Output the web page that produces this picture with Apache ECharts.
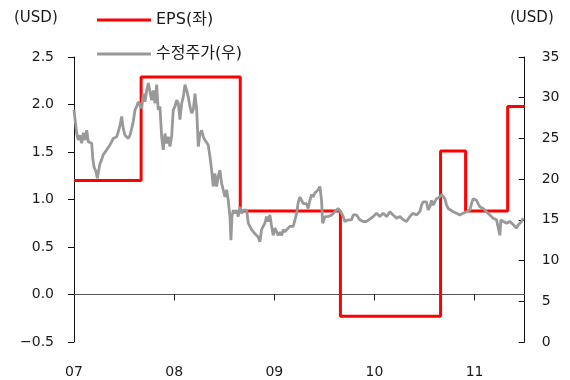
<!DOCTYPE html>
<html>
<head>
<meta charset="utf-8">
<script src="https://cdn.jsdelivr.net/npm/echarts@6/dist/echarts.min.js"></script>
<style>
html,body{margin:0;padding:0;background:#fff;}
#chart{width:570px;height:380px;}
</style>
</head>
<body>
<div id="chart"></div>
<script>
// ---- data ----
var seriesNames = ['EPS(좌)', '수정주가(우)'];
var xTickLabels = ['07', '08', '09', '10', '11'];
var leftTicks = [-0.5, 0.0, 0.5, 1.0, 1.5, 2.0, 2.5];
var rightTicks = [0, 5, 10, 15, 20, 25, 30, 35];

// EPS (left axis, USD) - step changes, time in decimal years
var epsYears = [2007.00, 2007.67, 2008.66, 2009.66, 2010.66, 2010.91, 2011.33, 2011.50];
var epsValues = [1.20, 2.29, 0.88, -0.23, 1.51, 0.88, 1.98, 1.98];

// Adjusted share price (right axis, USD), time in decimal years
var priceYears = [
2007.000,2007.027,2007.043,2007.060,2007.077,2007.093,2007.110,2007.127,2007.143,2007.160,
2007.177,2007.187,2007.200,2007.220,2007.233,2007.247,2007.259,2007.276,2007.292,2007.309,
2007.326,2007.342,2007.359,2007.376,2007.392,2007.409,2007.426,2007.442,2007.459,2007.476,
2007.492,2007.509,2007.526,2007.542,2007.559,2007.576,2007.592,2007.609,2007.626,2007.642,
2007.659,2007.676,2007.692,2007.709,2007.726,2007.742,2007.758,2007.775,2007.791,2007.808,
2007.825,2007.841,2007.858,2007.875,2007.891,2007.908,2007.925,2007.941,2007.958,2007.975,
2007.991,2008.008,2008.025,2008.041,2008.058,2008.075,2008.091,2008.108,2008.125,2008.141,
2008.158,2008.175,2008.191,2008.208,2008.225,2008.241,2008.258,2008.275,2008.291,2008.307,
2008.324,2008.340,2008.357,2008.374,2008.390,2008.407,2008.424,2008.440,2008.457,2008.474,
2008.490,2008.507,2008.524,2008.540,2008.557,2008.567,2008.577,2008.590,2008.607,2008.624,
2008.640,2008.657,2008.674,2008.690,2008.707,2008.724,2008.740,2008.756,2008.773,2008.789,
2008.806,2008.823,2008.839,2008.856,2008.873,2008.889,2008.906,2008.923,2008.939,2008.956,
2008.973,2008.989,2009.006,2009.023,2009.039,2009.056,2009.073,2009.089,2009.106,2009.123,
2009.139,2009.156,2009.173,2009.189,2009.206,2009.223,2009.239,2009.256,2009.273,2009.289,
2009.305,2009.322,2009.338,2009.355,2009.372,2009.388,2009.405,2009.422,2009.438,2009.455,
2009.472,2009.482,2009.495,2009.505,2009.522,2009.538,2009.555,2009.572,2009.588,2009.605,
2009.622,2009.638,2009.655,2009.672,2009.688,2009.705,2009.722,2009.738,2009.755,2009.771,
2009.788,2009.804,2009.821,2009.838,2009.854,2009.871,2009.887,2009.904,2009.921,2009.937,
2009.954,2009.987,2010.021,2010.054,2010.087,2010.121,2010.154,2010.187,2010.221,2010.254,
2010.287,2010.321,2010.353,2010.386,2010.420,2010.453,2010.470,2010.486,2010.503,2010.520,
2010.536,2010.553,2010.570,2010.586,2010.603,2010.620,2010.636,2010.653,2010.670,2010.686,
2010.703,2010.720,2010.736,2010.752,2010.786,2010.819,2010.852,2010.885,2010.918,2010.952,
2010.969,2010.985,2011.002,2011.019,2011.035,2011.052,2011.069,2011.085,2011.102,2011.119,
2011.135,2011.152,2011.169,2011.185,2011.202,2011.219,2011.235,2011.252,2011.262,2011.285,
2011.319,2011.353,2011.386,2011.419,2011.436,2011.452,2011.469,2011.485
];
var priceValues = [
28.5,25.6,24.8,25.4,24.4,25.7,24.8,26.0,24.6,24.8,
24.4,22.6,21.5,20.9,20.1,21.1,21.9,22.4,23.0,23.2,
23.6,23.4,24.2,24.6,25.0,24.8,25.2,25.8,26.6,27.7,
26.2,25.4,25.2,25.0,25.4,26.2,27.1,28.5,28.9,29.5,
29.3,28.7,30.5,29.5,30.9,31.8,32.0,29.7,30.9,29.3,
31.6,28.5,28.9,25.2,23.6,25.6,24.4,25.2,24.0,25.2,
28.5,28.9,29.7,29.3,27.3,29.3,30.1,31.6,30.9,30.1,
28.9,28.1,28.5,30.5,28.5,24.0,25.6,26.0,25.2,24.8,
24.6,24.2,22.8,21.1,19.1,20.7,19.1,20.3,21.1,19.5,
18.7,17.8,18.7,17.4,15.4,12.5,15.4,16.2,15.8,16.2,
15.4,16.6,15.8,16.2,16.4,16.2,14.6,14.2,13.8,14.0,
13.3,13.1,12.9,12.3,13.8,14.2,14.6,15.4,14.8,15.6,
14.2,13.1,14.0,13.9,13.1,13.5,13.1,13.8,13.5,13.8,
14.0,14.2,14.0,14.2,14.0,15.8,17.2,17.8,17.4,17.0,
17.2,17.0,16.4,17.4,18.1,17.8,18.3,18.1,18.7,19.1,
17.4,14.6,15.0,15.4,15.2,15.4,15.4,15.6,15.8,16.0,
16.2,16.4,16.2,15.8,15.4,14.8,14.6,15.0,15.2,15.0,
15.6,15.4,15.6,15.4,15.0,15.2,14.8,15.0,14.8,15.0,
15.1,15.4,15.8,15.4,15.8,15.4,16.0,15.6,15.2,15.4,
15.0,14.8,15.4,15.8,15.6,16.0,16.8,17.2,17.0,17.2,
16.2,16.6,17.4,16.8,17.2,17.6,17.8,17.8,18.1,18.2,
17.6,16.8,16.4,16.2,16.0,15.8,15.6,15.8,16.0,16.2,
17.0,17.6,17.6,17.4,17.0,16.6,16.8,16.4,16.2,16.0,
15.8,15.6,15.4,15.2,15.4,15.0,14.8,13.1,15.0,14.8,
14.6,14.8,14.4,14.0,14.4,14.2,14.8,15.2
];

// ---- chart ----
var numFont = "'DejaVu Sans', 'Noto Sans CJK KR', sans-serif";
var txtColor = '#1a1a1a';
var gridTop = 57, gridBottom = 38, plotH = 380 - gridTop - gridBottom;
var leftSpan = leftTicks[leftTicks.length - 1] - leftTicks[0];
// vertical offset of the zero line from the plot bottom (left axis scale)
var zeroOffset = -plotH * (0 - leftTicks[0]) / leftSpan;
var tickDepth = 6 * leftSpan / plotH; // 6px expressed in left-axis units

function zip(a, b) { return a.map(function (v, i) { return [v, b[i]]; }); }
function yearLabel(v) {
  var i = Math.round(v) - 2007;
  return (Math.abs(v - Math.round(v)) < 1e-6 && xTickLabels[i] !== undefined) ? xTickLabels[i] : '';
}
// small downward tick marks on the zero line at each year boundary
var zeroTicks = xTickLabels.slice(1).map(function (lab, i) {
  var yr = 2008 + i;
  return [{ coord: [yr, 0] }, { coord: [yr, -tickDepth] }];
});

var chart = echarts.init(document.getElementById('chart'), null, { renderer: 'canvas' });
chart.setOption({
  animation: false,
  backgroundColor: '#ffffff',
  textStyle: { fontFamily: numFont },
  grid: { left: 74, right: 45.3, top: gridTop, bottom: gridBottom, containLabel: false, outerBoundsMode: 'none' },
  legend: {
    data: [
      { name: seriesNames[0], itemStyle: { color: '#ff0000' } },
      { name: seriesNames[1], itemStyle: { color: '#999999' } }
    ],
    orient: 'vertical',
    left: 97,
    top: 12,
    padding: 0,
    icon: 'rect',
    itemWidth: 54,
    itemHeight: 3,
    itemGap: 18,
    textStyle: { fontSize: 16, color: txtColor, fontFamily: numFont }
  },
  graphic: [
    { type: 'text', left: 14, top: 11, style: { text: '(USD)', fontSize: 15, fill: txtColor, fontFamily: numFont } },
    { type: 'text', left: 510, top: 11, style: { text: '(USD)', fontSize: 15, fill: txtColor, fontFamily: numFont } }
  ],
  xAxis: [
    {
      type: 'value', position: 'bottom',
      min: 2007, max: 2011.5, interval: 1,
      axisLine: { show: false, onZero: false },
      axisTick: { show: false },
      axisLabel: { margin: 23, fontSize: 14, color: txtColor, formatter: yearLabel },
      splitLine: { show: false }
    },
    {
      type: 'value', position: 'bottom', offset: zeroOffset,
      min: 2007, max: 2011.5, interval: 1,
      axisLine: { show: true, onZero: false, lineStyle: { color: '#555', width: 1 } },
      axisTick: { show: false },
      axisLabel: { show: false },
      splitLine: { show: false }
    }
  ],
  yAxis: [
    {
      type: 'value', position: 'left',
      min: leftTicks[0], max: leftTicks[leftTicks.length - 1], interval: 0.5,
      axisLine: { show: true, onZero: false, lineStyle: { color: '#111', width: 1 } },
      axisTick: { show: true, inside: false, length: 6, lineStyle: { color: '#111' } },
      axisLabel: {
        margin: 20, fontSize: 14, color: txtColor,
        formatter: function (v) { return v < 0 ? '\u2212' + Math.abs(v).toFixed(1) : v.toFixed(1); }
      },
      splitLine: { show: false }
    },
    {
      type: 'value', position: 'right',
      min: rightTicks[0], max: rightTicks[rightTicks.length - 1], interval: 5,
      axisLine: { show: true, onZero: false, lineStyle: { color: '#111', width: 1 } },
      axisTick: { show: true, inside: true, length: 6, lineStyle: { color: '#111' } },
      axisLabel: { margin: 17, fontSize: 14, color: txtColor },
      splitLine: { show: false }
    }
  ],
  series: [
    {
      name: seriesNames[0], type: 'line', xAxisIndex: 0, yAxisIndex: 0, step: 'end',
      data: zip(epsYears, epsValues),
      showSymbol: false, symbol: 'none',
      lineStyle: { color: '#ff0000', width: 3 },
      itemStyle: { color: '#ff0000' },
      markLine: {
        silent: true,
        symbol: ['none', 'none'],
        label: { show: false },
        lineStyle: { color: '#222', width: 1, type: 'solid' },
        emphasis: { disabled: true },
        data: zeroTicks
      },
      z: 2
    },
    {
      name: seriesNames[1], type: 'line', xAxisIndex: 0, yAxisIndex: 1,
      data: zip(priceYears, priceValues),
      showSymbol: false, symbol: 'none',
      lineStyle: { color: '#999999', width: 2.8 },
      itemStyle: { color: '#999999' },
      z: 3
    }
  ]
});
</script>
</body>
</html>
